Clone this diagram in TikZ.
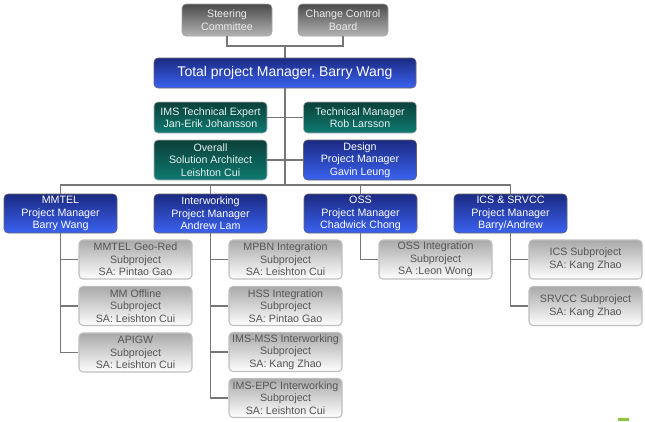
\documentclass[tikz,border=0pt]{standalone}
\usepackage{fontspec}
\setmainfont{Liberation Sans}
\usetikzlibrary{calc}

\definecolor{navy top}{HTML}{1B2A82}
\definecolor{navy bottom}{HTML}{3B62F0}
\definecolor{teal top}{HTML}{0B403A}
\definecolor{teal bottom}{HTML}{0E7A70}
\definecolor{grey top}{HTML}{4A4A4A}
\definecolor{grey bottom}{HTML}{B4B4B4}
\definecolor{sub top}{HTML}{A9A9A9}
\definecolor{sub text}{HTML}{555555}
\definecolor{wire grey}{HTML}{767676}
\definecolor{corner green}{HTML}{8CC63F}

\begin{document}
\begin{tikzpicture}[x=0.75pt, y=-0.75pt]% coordinates
            \tikzstyle{box} = [rounded corners=3pt, align=center, inner sep=1pt,
                minimum width=84.75pt, minimum height=29.25pt,
                font=\fontsize{8}{9.4}\selectfont]
            \tikzstyle{board} = [box, top color=grey top, bottom color=grey bottom,
                draw=gray!70, text=white!85!gray, minimum width=67.5pt, minimum height=24pt]
            \tikzstyle{manager} = [box, top color=navy top, bottom color=navy bottom,
                draw=black!60, text=white]
            \tikzstyle{expert} = [box, top color=teal top, bottom color=teal bottom,
                draw=gray!60, text=white!90!teal]
            \tikzstyle{subproject} = [box, top color=sub top, bottom color=white,
                draw=gray!50, line width=0.8pt, text=sub text]
            \tikzstyle{wire} = [draw=wire grey, line width=1.4pt]
            \useasboundingbox (0, 0) rectangle (645, 421);
            % top of the chart
            \node[board] (steering) at (227, 20) {Steering\\Committee};
            \node[board] (change board) at (343, 20) {Change Control\\Board};
            \node[manager, minimum width=196.5pt, minimum height=22.5pt,
                font=\fontsize{10.5}{12}\selectfont] (total) at (285, 73)
                {Total project Manager, Barry Wang};
            \node[expert, minimum height=23.25pt] (ims expert) at (210.5, 117.5)
                {IMS  Technical Expert\\Jan-Erik  Johansson};
            \node[expert, minimum height=23.25pt] (tech manager) at (360, 117.5)
                {Technical Manager\\Rob Larsson};
            \node[expert, minimum height=30pt] (architect) at (210.5, 160)
                {Overall\\Solution Architect\\Leishton Cui};
            \node[manager, minimum height=30pt] (design) at (360, 160)
                {Design\\Project Manager\\Gavin Leung};
            % project managers
            \node[manager] (mmtel) at (60.5, 213.5) {MMTEL\\Project Manager\\Barry Wang};
            \node[manager] (interworking) at (210.5, 213.5) {Interworking\\Project Manager\\Andrew Lam};
            \node[manager] (oss) at (360.5, 213.5) {OSS\\Project Manager\\Chadwick Chong};
            \node[manager] (ics srvcc) at (510.5, 213.5) {ICS \& SRVCC\\Project Manager\\Barry/Andrew};
            % subprojects
            \node[subproject] (geo red) at (135.5, 259.5) {MMTEL  Geo-Red\\Subproject\\SA: Pintao Gao};
            \node[subproject] (mm offline) at (135.5, 306) {MM Offline\\Subproject\\SA: Leishton Cui};
            \node[subproject] (apigw) at (135.5, 352.5) {APIGW\\Subproject\\SA: Leishton Cui};
            \node[subproject] (mpbn) at (285.5, 259.5) {MPBN  Integration\\Subproject\\SA: Leishton Cui};
            \node[subproject] (hss) at (285.5, 306) {HSS  Integration\\Subproject\\SA: Pintao Gao};
            \node[subproject] (ims mss) at (285.5, 352) {IMS-MSS  Interworking\\Subproject\\SA: Kang Zhao};
            \node[subproject] (ims epc) at (285.5, 398) {IMS-EPC  Interworking\\Subproject\\SA: Leishton Cui};
            \node[subproject] (oss integration) at (435.5, 259.5) {OSS Integration\\Subproject\\SA :Leon Wong};
            \node[subproject] (ics) at (585.5, 259.5) {ICS  Subproject\\SA: Kang Zhao};
            \node[subproject] (srvcc) at (585.5, 306) {SRVCC Subproject\\SA: Kang Zhao};
            % wires
            \coordinate (top bus) at (285, 46);
            \coordinate (bus) at (285, 185);
            \draw[wire] (steering.south) |- (top bus) -| (change board.south);
            \draw[wire] (top bus) -- (total.north);
            \draw[wire] (total.south) -- (bus);
            \draw[wire] (ims expert.east) -- (tech manager.west);
            \draw[wire] (architect.east) -- (design.west);
            \draw[wire] (mmtel.north) |- (bus) -| (ics srvcc.north);
            \draw[wire] (interworking.north) |- (bus);
            \draw[wire] (oss.north) |- (bus);
            \foreach \s in {geo red, mm offline, apigw}
                \draw[wire] (mmtel.south) |- (\s.west);
            \foreach \s in {mpbn, hss, ims mss, ims epc}
                \draw[wire] (interworking.south) |- (\s.west);
            \draw[wire] (oss.south) |- (oss integration.west);
            \foreach \s in {ics, srvcc}
                \draw[wire] (ics srvcc.south) |- (\s.west);
            \fill[corner green] (618, 418) rectangle (629, 421);
        \end{tikzpicture}
\end{document}
